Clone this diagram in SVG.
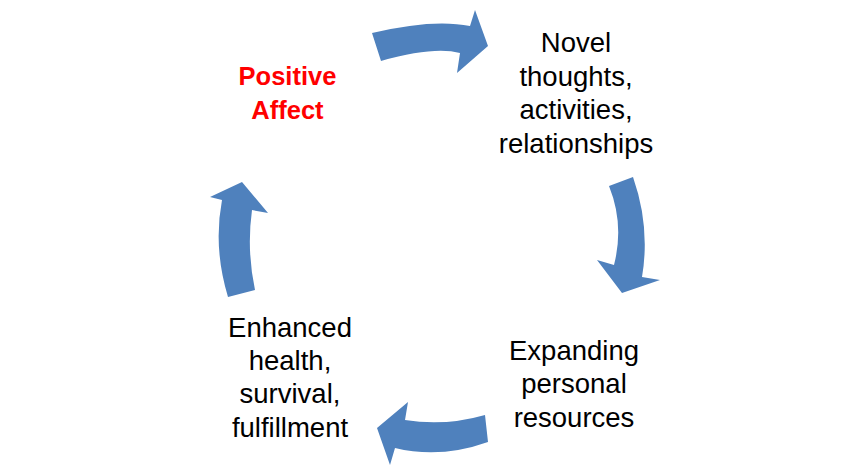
<svg xmlns="http://www.w3.org/2000/svg" width="864" height="475" viewBox="0 0 864 475">
<style>
.arrow{fill:#4F81BD;stroke:none}
.t{font-family:"Liberation Sans",Arial,sans-serif;font-size:27.5px;fill:#000;text-anchor:middle}
.r{font-family:"Liberation Sans",Arial,sans-serif;font-size:25.5px;font-weight:bold;fill:#FF0000;text-anchor:middle}
</style>
<rect width="864" height="475" fill="#fff"/>
<g id="connectors">
<path class="arrow" d="M372,33 Q433,18.5 470,26 L475,10 L488,46 L457,73 L460,53 Q433.5,46.2 381,61 Z"/>
<path class="arrow" d="M609,186 L633,177 Q650.5,227 642,277 L660,280 L622,293 L597,260 L614,265 Q624.5,224.5 609,186 Z"/>
<path class="arrow" d="M485,415 Q445,426.5 405,420 L408,402 L377,428 L390,465 L395,448 Q440.5,459 488,442 Z"/>
<path class="arrow" d="M228,297 L255,290 Q246.5,250 252,210 L268,213 L242,182 L210,197 L222,200 Q213,247.5 228,297 Z"/>
</g>
<g id="node-positive-affect">
<text class="r" x="287.5" y="85">Positive</text>
<text class="r" x="287.5" y="118.5">Affect</text>
</g>
<g id="node-novel">
<text class="t" x="576" y="52.3">Novel</text>
<text class="t" x="576" y="85.8">thoughts,</text>
<text class="t" x="576" y="119.3">activities,</text>
<text class="t" x="576" y="152.8">relationships</text>
</g>
<g id="node-expanding">
<text class="t" x="574" y="360">Expanding</text>
<text class="t" x="574" y="393.3">personal</text>
<text class="t" x="574" y="426.7">resources</text>
</g>
<g id="node-enhanced">
<text class="t" x="290" y="336.7">Enhanced</text>
<text class="t" x="290" y="370">health,</text>
<text class="t" x="290" y="403.3">survival,</text>
<text class="t" x="290" y="436.7">fulfillment</text>
</g>
</svg>
